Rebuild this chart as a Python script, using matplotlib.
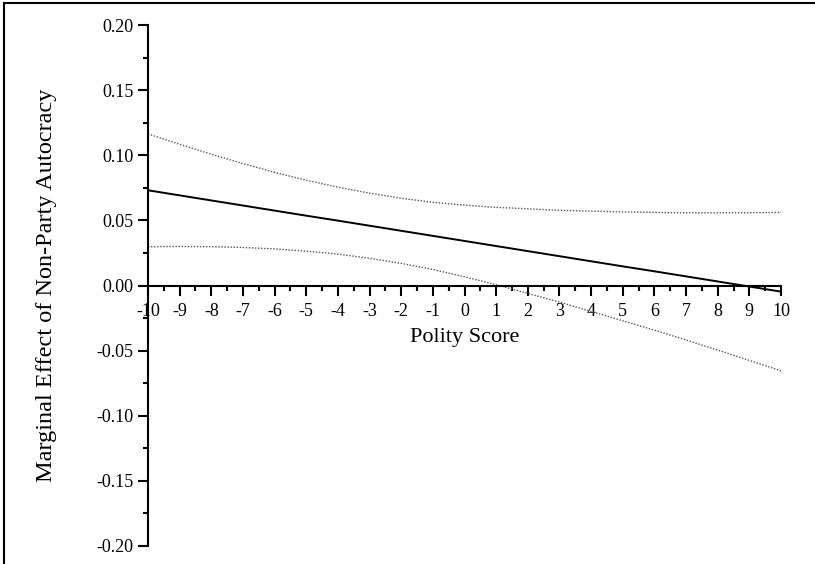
import matplotlib
matplotlib.use("Agg")
import matplotlib.pyplot as plt
from matplotlib.ticker import MultipleLocator, FormatStrFormatter
from matplotlib.patches import Rectangle

polity = [-10, -9, -8, -7, -6, -5, -4, -3, -2, -1, 0,
          1, 2, 3, 4, 5, 6, 7, 8, 9, 10]
effect = [0.0731, 0.0692, 0.0653, 0.0614, 0.0575, 0.0536, 0.0498, 0.0459,
          0.0420, 0.0381, 0.0342, 0.0303, 0.0264, 0.0225, 0.0186, 0.0147,
          0.0109, 0.0070, 0.0031, -0.0008, -0.0047]
upper = [0.1164, 0.1084, 0.1008, 0.0936, 0.0869, 0.0808, 0.0755, 0.0709,
         0.0670, 0.0639, 0.0617, 0.0600, 0.0589, 0.0577, 0.0571, 0.0565,
         0.0561, 0.0558, 0.0558, 0.0559, 0.0561]
lower = [0.0298, 0.0300, 0.0298, 0.0292, 0.0281, 0.0264, 0.0241, 0.0209,
         0.0170, 0.0123, 0.0067, 0.0006, -0.0061, -0.0127, -0.0199, -0.0271,
         -0.0343, -0.0418, -0.0496, -0.0575, -0.0655]

plt.rcParams['font.family'] = ['Liberation Serif', 'DejaVu Serif']
plt.rcParams['axes.unicode_minus'] = False

fig = plt.figure(figsize=(8.15, 5.64), dpi=100)
ax = fig.add_axes([148/815, 1 - 546/564, (781 - 148)/815, (546 - 25)/564])

ax.plot(polity, effect, color='black', linewidth=1.4)
ax.plot(polity, upper, color='#555555', linewidth=1.0, linestyle=(0, (1, 1.2)))
ax.plot(polity, lower, color='#555555', linewidth=1.0, linestyle=(0, (1, 1.2)))

ax.set_xlim(-10, 10)
ax.set_ylim(-0.2, 0.2)

ax.spines['top'].set_visible(False)
ax.spines['right'].set_visible(False)
ax.spines['bottom'].set_position(('data', 0))
ax.spines['left'].set_linewidth(1.5)
ax.spines['bottom'].set_linewidth(1.5)

ax.xaxis.set_major_locator(MultipleLocator(1))
ax.xaxis.set_minor_locator(MultipleLocator(0.5))
ax.yaxis.set_major_locator(MultipleLocator(0.05))
ax.yaxis.set_minor_locator(MultipleLocator(0.025))
ax.yaxis.set_major_formatter(FormatStrFormatter('%.2f'))
ax.xaxis.set_major_formatter(FormatStrFormatter('%d'))

ax.tick_params(axis='both', which='major', direction='out', length=7.5,
               width=1.5, labelsize=13)
ax.tick_params(axis='both', which='minor', direction='out', length=3.8,
               width=1.5)
ax.tick_params(axis='x', which='major', pad=5)
ax.tick_params(axis='y', which='major', pad=3)

ax.set_xlabel("Polity Score", fontsize=16)
ax.xaxis.set_label_coords(0.5, (546 - 328) / 521)
ax.set_ylabel("Marginal Effect of Non-Party Autocracy", fontsize=17.5)
ax.yaxis.set_label_coords(-(148 - 57) / 633, 0.5)

# outer frame, only top and left edges fall inside the canvas
fig.add_artist(Rectangle((4/815, -0.5), 2.0, 0.5 + 1 - 3/564,
                         transform=fig.transFigure, fill=False,
                         edgecolor='black', linewidth=1.5))

fig.savefig("out.png", dpi=100)
